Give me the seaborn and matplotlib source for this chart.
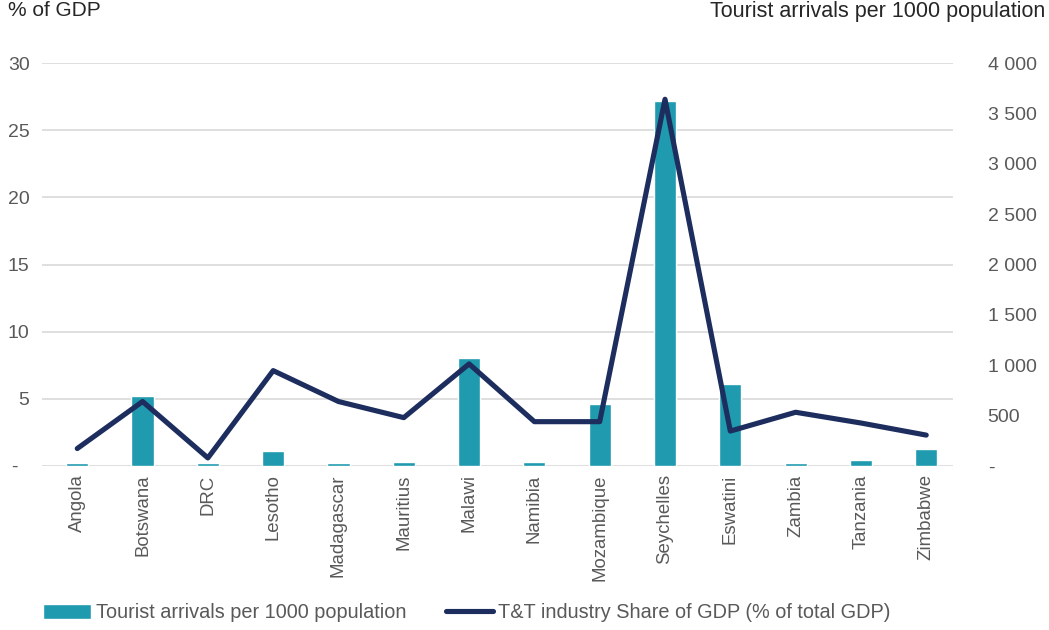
import numpy as np
import pandas as pd
import matplotlib
matplotlib.use("Agg")
import matplotlib.pyplot as plt
import seaborn as sns
from matplotlib.ticker import FuncFormatter, FixedLocator

categories = ["Angola", "Botswana", "DRC", "Lesotho", "Madagascar", "Mauritius",
              "Malawi", "Namibia", "Mozambique", "Seychelles", "Eswatini",
              "Zambia", "Tanzania", "Zimbabwe"]
arrivals = [25, 695, 25, 150, 25, 40, 1070, 40, 615, 3620, 815, 25, 60, 170]
gdp_share = [1.3, 4.8, 0.6, 7.1, 4.8, 3.6, 7.6, 3.3, 3.3, 27.3, 2.6, 4.0, 3.2, 2.3]
left_ticks = [0, 5, 10, 15, 20, 25, 30]
right_ticks = [0, 500, 1000, 1500, 2000, 2500, 3000, 3500, 4000]
LEFT_MAX = 30
RIGHT_MAX = 4000

BAR = "#1F9AAE"
LINE = "#1C2D5E"
TICK = "#595959"
TXT = "#262626"

sns.set_theme(style="white")
plt.rcParams["font.family"] = ["Liberation Sans", "DejaVu Sans"]

fig = plt.figure(figsize=(10.49, 6.30), dpi=100)
ax = fig.add_axes([42/1049, 1-466/630, (953-42)/1049, (466-63)/630])
ax2 = ax.twinx()
ax.set_zorder(ax2.get_zorder() + 1)
ax.patch.set_visible(False)

df = pd.DataFrame({"country": categories, "arrivals": arrivals,
                   "gdp": gdp_share, "pos": np.arange(len(categories))})

sns.barplot(data=df, x="country", y="arrivals", ax=ax2, color=BAR,
            width=0.34, saturation=1, label="Tourist arrivals per 1000 population")
sns.lineplot(data=df, x="pos", y="gdp", ax=ax, color=LINE, linewidth=3.7,
             sort=False, label="T&T industry Share of GDP (% of total GDP)")
for l in ax.lines:
    l.set_solid_capstyle("round")
    l.set_solid_joinstyle("round")

ax.set_xlim(-0.54, 13.41)
ax.set_ylim(0, LEFT_MAX)
ax2.set_ylim(0, RIGHT_MAX)
ax.yaxis.set_major_locator(FixedLocator(left_ticks))
ax2.yaxis.set_major_locator(FixedLocator(right_ticks))
ax.yaxis.set_major_formatter(FuncFormatter(lambda v, p: "-  " if v == 0 else f"{int(v)}"))
ax2.yaxis.set_major_formatter(FuncFormatter(
    lambda v, p: "-" if v == 0 else f"{int(v):,}".replace(",", " ")))

# gridlines follow the left axis ticks, drawn behind the bars
ax2.yaxis.remove_overlapping_locs = False
ax2.yaxis.set_minor_locator(FixedLocator([v * RIGHT_MAX / LEFT_MAX for v in left_ticks]))
ax2.grid(False)
ax2.grid(axis="y", which="minor", color="#D9D9D9", linewidth=1.2)
ax2.set_axisbelow(True)
ax.grid(False)

ax.set_xticks(np.arange(len(categories)))
ax.set_xticklabels(categories, rotation=90)
ax2.set_xlabel("")
ax.set_xlabel("")
ax.set_ylabel("")
ax2.set_ylabel("")

for a in (ax, ax2):
    for s in a.spines.values():
        s.set_visible(False)
ax.tick_params(axis="x", length=0, pad=6, labelsize=13.4, labelcolor=TICK)
ax.tick_params(axis="y", length=0, pad=9, labelsize=14, labelcolor=TICK)
ax2.tick_params(axis="y", which="both", length=0, pad=25, labelsize=14, labelcolor=TICK)
ax2.tick_params(axis="x", length=0, labelbottom=False)

fig.text(8/1049, 1-1/630, "% of GDP", ha="left", va="top", fontsize=15, color=TXT)
fig.text(1045/1049, 1-1/630, "Tourist arrivals per 1000 population", ha="right",
         va="top", fontsize=15.5, color=TXT)

h1, l1 = ax2.get_legend_handles_labels()
h2, l2 = ax.get_legend_handles_labels()
if ax2.get_legend():
    ax2.get_legend().remove()
if ax.get_legend():
    ax.get_legend().remove()
fig.legend(h1 + h2, l1 + l2, loc="center left", bbox_to_anchor=(25/1049, 1-613/630),
           ncol=2, frameon=False, fontsize=14.3, labelcolor=TICK,
           handlelength=2.4, handleheight=0.8, handletextpad=0.25, columnspacing=2.0)

fig.savefig("out.png", dpi=100)
